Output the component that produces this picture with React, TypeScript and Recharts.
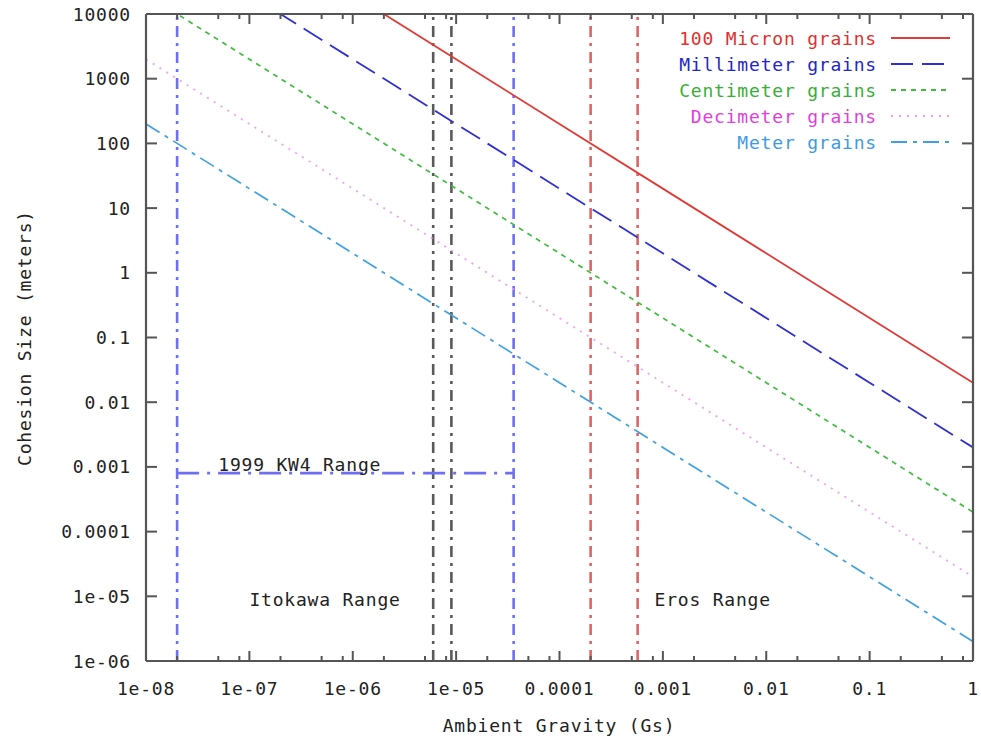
import React from 'react'
import { LineChart, Line, XAxis, YAxis, ReferenceLine, ReferenceDot } from 'recharts'

// ambient gravity (Gs) sample points, one per decade
const gravity = [1e-8, 1e-7, 1e-6, 1e-5, 1e-4, 1e-3, 1e-2, 1e-1, 1]

// cohesion size (meters) per grain size
const micron = [2e6, 2e5, 2e4, 2000, 200, 20, 2, 0.2, 0.02]
const millimeter = [2e5, 2e4, 2000, 200, 20, 2, 0.2, 0.02, 0.002]
const centimeter = [2e4, 2000, 200, 20, 2, 0.2, 0.02, 0.002, 0.0002]
const decimeter = [2000, 200, 20, 2, 0.2, 0.02, 0.002, 0.0002, 2e-5]
const meter = [200, 20, 2, 0.2, 0.02, 0.002, 0.0002, 2e-5, 2e-6]

// asteroid gravity ranges
const itokawaRange = [2e-8, 3.6e-5]
const kw4Range = [6e-6, 9e-6]
const erosRange = [2e-4, 5.7e-4]
const kw4Level = 8e-4

const xMajor = [1e-8, 1e-7, 1e-6, 1e-5, 1e-4, 1e-3, 1e-2, 1e-1, 1]
const xLabels = ['1e-08', '1e-07', '1e-06', '1e-05', '0.0001', '0.001', '0.01', '0.1', '1']
const xMinor = [
  2e-8, 5e-8, 8e-8, 2e-7, 5e-7, 8e-7, 2e-6, 5e-6, 8e-6, 2e-5, 5e-5, 8e-5,
  2e-4, 5e-4, 8e-4, 2e-3, 5e-3, 8e-3, 2e-2, 5e-2, 8e-2, 0.2, 0.5, 0.8,
]
const yMajor = [1e-6, 1e-5, 1e-4, 1e-3, 1e-2, 1e-1, 1, 10, 100, 1000, 10000]
const yLabels = ['1e-06', '1e-05', '0.0001', '0.001', '0.01', '0.1', '1', '10', '100', '1000', '10000']

const series = [
  { key: 'micron', name: '100 Micron grains', text: '#e2302c', stroke: '#e23a36', dash: undefined, width: 1.8 },
  { key: 'millimeter', name: 'Millimeter grains', text: '#2424cc', stroke: '#2f2fd2', dash: '22 9', width: 1.8 },
  { key: 'centimeter', name: 'Centimeter grains', text: '#36b036', stroke: '#3cbd3c', dash: '5 5', width: 1.7 },
  { key: 'decimeter', name: 'Decimeter grains', text: '#e03ee0', stroke: '#f29cf2', dash: '2 6', width: 1.7 },
  { key: 'meter', name: 'Meter grains', text: '#3b9be6', stroke: '#3ea2e2', dash: '16 6 4 6', width: 1.7 },
]

const data = gravity.map((g, i) => ({
  g,
  micron: micron[i],
  millimeter: millimeter[i],
  centimeter: centimeter[i],
  decimeter: decimeter[i],
  meter: meter[i],
}))

const font = { fontFamily: "'DejaVu Sans Mono', monospace", fontSize: 18, letterSpacing: 0.8 }
const border = '#555'

const xTick = (side: 'top' | 'bottom') => (props: any) => {
  const { x, y, payload } = props
  const i = xMajor.indexOf(payload.value)
  const len = i >= 0 ? 10 : 5
  const dir = side === 'bottom' ? -1 : 1
  return (
    <g>
      <line x1={x} x2={x} y1={y} y2={y + dir * len} stroke={border} strokeWidth={2} />
      {side === 'bottom' && i >= 0 && (
        <text x={x} y={y + 27} textAnchor="middle" dominantBaseline="central" fill="#222" style={font}>
          {xLabels[i]}
        </text>
      )}
    </g>
  )
}

const yTick = (side: 'left' | 'right') => (props: any) => {
  const { x, y, payload } = props
  const i = yMajor.indexOf(payload.value)
  const dir = side === 'left' ? 1 : -1
  return (
    <g>
      <line x1={x} x2={x + dir * 11} y1={y} y2={y} stroke={border} strokeWidth={2} />
      {side === 'left' && (
        <text x={x - 15} y={y} textAnchor="end" dominantBaseline="central" fill="#222" style={font}>
          {yLabels[i]}
        </text>
      )}
    </g>
  )
}

const rangeLine = { strokeWidth: 2.6, strokeDasharray: '11 6 3 6' }
const axisStyle = { stroke: border, strokeWidth: 2.2 }

export default function App() {
  return (
    <div style={{ position: 'absolute', left: 0, top: 0, background: '#fff' }}>
      <LineChart width={981} height={740} data={data} margin={{ top: 13, right: 7, bottom: 78, left: 145 }}>
        <XAxis
          dataKey="g" type="number" scale="log" domain={[1e-8, 1]} allowDataOverflow
          ticks={[...xMajor, ...xMinor]} interval={0} tickSize={0} tickMargin={0} height={1}
          axisLine={axisStyle} tickLine={false} tick={xTick('bottom')}
        />
        <XAxis
          xAxisId="top" orientation="top" dataKey="g" type="number" scale="log" domain={[1e-8, 1]} allowDataOverflow
          ticks={[...xMajor, ...xMinor]} interval={0} tickSize={0} tickMargin={0} height={1}
          axisLine={axisStyle} tickLine={false} tick={xTick('top')}
        />
        <YAxis
          type="number" scale="log" domain={[1e-6, 1e4]} allowDataOverflow
          ticks={yMajor} interval={0} tickSize={0} tickMargin={0} width={1}
          axisLine={axisStyle} tickLine={false} tick={yTick('left')}
        />
        <YAxis
          yAxisId="right" orientation="right" type="number" scale="log" domain={[1e-6, 1e4]} allowDataOverflow
          ticks={yMajor} interval={0} tickSize={0} tickMargin={0} width={1}
          axisLine={axisStyle} tickLine={false} tick={yTick('right')}
        />

        {itokawaRange.map((v) => (
          <ReferenceLine key={'i' + v} x={v} stroke="#6f6ff2" {...rangeLine} />
        ))}
        {kw4Range.map((v) => (
          <ReferenceLine key={'k' + v} x={v} stroke="#5a5a5a" {...rangeLine} />
        ))}
        {erosRange.map((v) => (
          <ReferenceLine key={'e' + v} x={v} stroke="#e06464" {...rangeLine} />
        ))}
        <ReferenceLine
          segment={[{ x: itokawaRange[0], y: kw4Level }, { x: itokawaRange[1], y: kw4Level }]}
          stroke="#6f6ff2" strokeWidth={2.6} strokeDasharray="22 8 3 8"
        />

        {series.map((s) => (
          <Line
            key={s.key} dataKey={s.key} stroke={s.stroke} strokeWidth={s.width} strokeDasharray={s.dash}
            dot={false} activeDot={false} isAnimationActive={false} type="linear"
          />
        ))}

        <ReferenceDot x={5e-8} y={1.1e-3} r={0} fill="none" stroke="none"
          label={{ value: '1999 KW4 Range', position: 'right', offset: 0, fill: '#222', style: font }} />
        <ReferenceDot x={1e-7} y={9e-6} r={0} fill="none" stroke="none"
          label={{ value: 'Itokawa Range', position: 'right', offset: 0, fill: '#222', style: font }} />
        <ReferenceDot x={8.3e-4} y={9e-6} r={0} fill="none" stroke="none"
          label={{ value: 'Eros Range', position: 'right', offset: 0, fill: '#222', style: font }} />

        <text x={24} y={338} transform="rotate(-90 24 338)" textAnchor="middle" dominantBaseline="central" fill="#222" style={font}>
          Cohesion Size (meters)
        </text>
        <text x={559} y={725} textAnchor="middle" dominantBaseline="central" fill="#222" style={font}>
          Ambient Gravity (Gs)
        </text>

        <g>
          {series.map((s, i) => (
            <g key={s.key}>
              <text x={877} y={38 + i * 26} textAnchor="end" dominantBaseline="central" fill={s.text} style={font}>
                {s.name}
              </text>
              <line x1={891} x2={950} y1={38 + i * 26} y2={38 + i * 26} stroke={s.stroke} strokeWidth={2} strokeDasharray={s.dash} />
            </g>
          ))}
        </g>
      </LineChart>
    </div>
  )
}
